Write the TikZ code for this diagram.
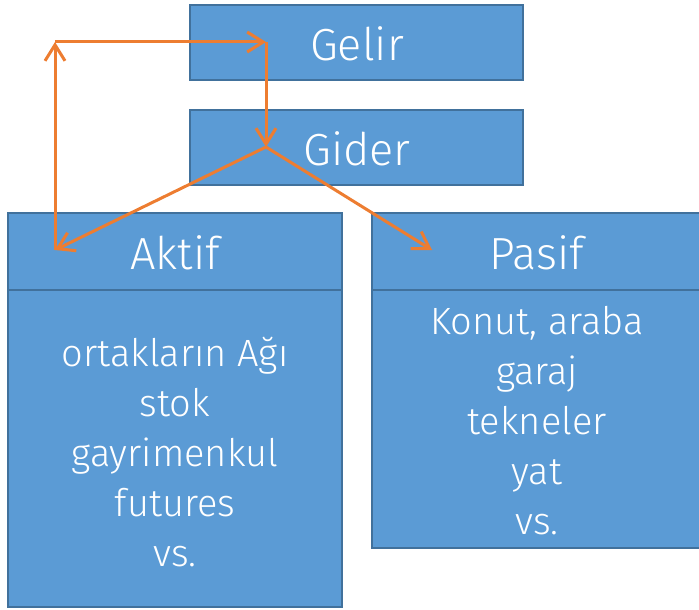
\documentclass[tikz,border=0pt]{standalone}
\usepackage{fontspec}
\setmainfont{Fira Sans}[UprightFont={* Light}]
\usetikzlibrary{arrows.meta}
\definecolor{boxfill}{HTML}{5B9BD5}
\definecolor{boxline}{HTML}{41719C}
\definecolor{arr}{HTML}{ED7D31}
\begin{document}
\begin{tikzpicture}[x=1pt,y=-1pt,
  blue box/.style={draw=boxline,line width=2.8pt,fill=boxfill,inner sep=0pt},
  head/.style={text=white,font=\fontsize{45}{50}\selectfont},
  body/.style={text=white,font=\fontsize{38}{50}\selectfont,align=center},
  conn/.style={draw=arr,line width=3pt,-{Straight Barb[length=16pt,width=20pt,line width=3pt]}}]
\useasboundingbox (0,0) rectangle (699,610);
% boxes
\draw[blue box] (190,5) rectangle (523,80);
\draw[blue box] (190,110) rectangle (523,185);
\draw[blue box] (8,290) rectangle (342,607);
\draw[blue box] (8,213) rectangle (342,290);
\draw[blue box] (372,290) rectangle (703,548);
\draw[blue box] (372,213) rectangle (703,290);
% texts
\node[head] (gelir) at (357,44) {Gelir};
\node[head] (gider) at (357,149) {Gider};
\node[head] (aktif) at (175,253) {Aktif};
\node[head] (pasif) at (537,253) {Pasif};
\node[body] (aktifb) at (175,452) {ortakların Ağı\\stok\\gayrimenkul\\futures\\vs.};
\node[body] (pasifb) at (537,421) {Konut, araba\\garaj\\tekneler\\yat\\vs.};
% connector points
\coordinate (c1) at (55,250);
\coordinate (c2) at (55,42);
\coordinate (c3) at (266,42);
\coordinate (c4) at (266,147);
\coordinate (c5) at (432,250);
\draw[conn] (c1) -- (c2);
\draw[conn] (c2) -- (c3);
\draw[conn] (c3) -- (c4);
\draw[conn] (c4) -- (c1);
\draw[conn] (c4) -- (c5);
\end{tikzpicture}
\end{document}
